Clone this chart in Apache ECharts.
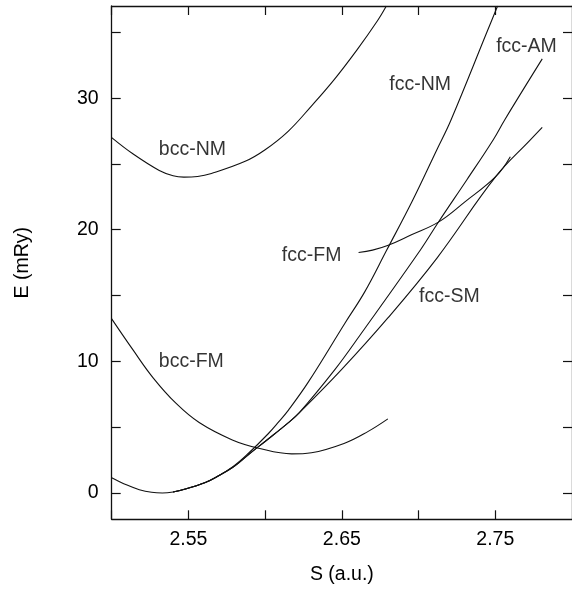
<!DOCTYPE html>
<html>
<head>
<meta charset="utf-8">
<script src="https://cdn.jsdelivr.net/npm/echarts@6/dist/echarts.min.js"></script>
<style>
  html, body { margin: 0; padding: 0; background: #fff; }
  #main { width: 572px; height: 590px; }
</style>
</head>
<body>
<div id="main"></div>
<script>
// Total energy E (mRy) versus Wigner–Seitz radius S (a.u.)

// bcc, non-magnetic
const bccNM_S = [2.500, 2.514, 2.531, 2.540, 2.547, 2.556, 2.565, 2.587, 2.600, 2.615, 2.630, 2.645, 2.660, 2.673, 2.679];
const bccNM_E = [27.0, 25.75, 24.5, 24.1, 24.0, 24.05, 24.28, 25.2, 26.08, 27.48, 29.38, 31.41, 33.69, 35.84, 37.0];

// bcc, ferromagnetic
const bccFM_S = [2.500, 2.514, 2.527, 2.542, 2.557, 2.5786, 2.5958, 2.6173, 2.6302, 2.6518, 2.6669, 2.680];
const bccFM_E = [13.23, 10.85, 8.75, 6.8, 5.35, 4.03, 3.40, 2.97, 3.06, 3.78, 4.66, 5.63];

// fcc, non-magnetic
const fccNM_S = [2.500, 2.510, 2.518, 2.526, 2.533, 2.540, 2.548, 2.561, 2.568, 2.579, 2.589, 2.602, 2.6088, 2.6152, 2.628, 2.652, 2.665, 2.679, 2.696, 2.712, 2.721, 2.7445, 2.7515];
const fccNM_E = [1.16, 0.6, 0.25, 0.05, 0.0, 0.08, 0.3, 0.8, 1.2, 2.0, 3.0, 4.5, 5.4, 6.3, 8.4, 12.9, 15.3, 18.4, 22.2, 26.1, 28.3, 35.0, 37.0];

// fcc, antiferromagnetic
const fccAM_S = [2.540, 2.548, 2.561, 2.568, 2.579, 2.589, 2.602, 2.6152, 2.622, 2.6453, 2.6625, 2.7013, 2.7132, 2.7315, 2.7487, 2.7562, 2.7806];
const fccAM_E = [0.08, 0.3, 0.8, 1.2, 1.95, 2.9, 4.1, 5.35, 6.06, 9.35, 12.1, 18.48, 20.63, 23.8, 26.84, 28.36, 32.98];

// fcc, spin spiral
const fccSM_S = [2.540, 2.548, 2.561, 2.568, 2.579, 2.589, 2.602, 2.6152, 2.622, 2.6496, 2.680, 2.712, 2.7504, 2.773, 2.7806];
const fccSM_E = [0.08, 0.3, 0.8, 1.2, 1.95, 2.9, 4.1, 5.35, 6.06, 9.35, 13.3, 17.85, 24.05, 26.84, 27.78];

// fcc, ferromagnetic
const fccFM_S = [2.6609, 2.670, 2.6798, 2.695, 2.7132, 2.730, 2.7504, 2.7598];
const fccFM_E = [18.27, 18.45, 18.8, 19.6, 20.6, 22.1, 24.05, 25.55];

// Axis ticks and labels
const xTicks = [2.50, 2.55, 2.60, 2.65, 2.70, 2.75];
const xTickLabels = [2.55, 2.65, 2.75];
const yTicks = [0, 5, 10, 15, 20, 25, 30, 35];
const yTickLabels = [0, 10, 20, 30];

// Curve names and where their captions sit (left edge, vertical centre)
const curveNames = ['bcc-NM', 'fcc-NM', 'fcc-AM', 'fcc-FM', 'bcc-FM', 'fcc-SM'];
const captionAt = [[2.5307, 26.08], [2.6809, 31.03], [2.7506, 33.95], [2.6109, 18.02], [2.5307, 9.98], [2.7003, 14.93]];

const FONT = "'Liberation Sans', Arial, Helvetica, sans-serif";
const INK = '#000000';

function pairs(xs, ys) { return xs.map((x, i) => [x, ys[i]]); }

function curve(name, xs, ys) {
  return {
    name: name,
    type: 'line',
    data: pairs(xs, ys),
    showSymbol: false,
    smooth: 0.4,
    clip: true,
    lineStyle: { color: '#111111', width: 1.1 },
    silent: true,
    animation: false
  };
}

const frameLine = { show: true, onZero: false, lineStyle: { color: '#111111', width: 1.3 } };
const tickStyle = { color: '#111111', width: 1.2 };

const chart = echarts.init(document.getElementById('main'), null, { renderer: 'canvas' });
chart.setOption({
  backgroundColor: '#ffffff',
  animation: false,
  textStyle: { fontFamily: FONT },
  grid: { left: 111.7, right: -4.1, top: 6, bottom: 70.7, containLabel: false },
  xAxis: [{
    type: 'value', position: 'bottom', min: 2.5, max: 2.8,
    name: 'S (a.u.)', nameLocation: 'middle', nameGap: 45,
    nameTextStyle: { fontSize: 19.5, color: INK, fontFamily: FONT },
    axisLine: frameLine,
    axisTick: { show: true, inside: true, length: 9, customValues: xTicks, lineStyle: tickStyle },
    axisLabel: { show: true, customValues: xTickLabels, margin: 10, fontSize: 19.5, color: INK, fontFamily: FONT,
                 formatter: v => v.toFixed(2) },
    splitLine: { show: false }
  }, {
    type: 'value', position: 'top', min: 2.5, max: 2.8,
    axisLine: frameLine,
    axisTick: { show: true, inside: true, length: 9, customValues: xTicks, lineStyle: tickStyle },
    axisLabel: { show: false },
    splitLine: { show: false }
  }],
  yAxis: [{
    type: 'value', position: 'left', min: -2, max: 37,
    name: 'E (mRy)', nameLocation: 'middle', nameGap: 79, nameRotate: 90,
    nameTextStyle: { fontSize: 19.5, color: INK, fontFamily: FONT },
    axisLine: frameLine,
    axisTick: { show: true, inside: true, length: 9, customValues: yTicks, lineStyle: tickStyle },
    axisLabel: { show: true, customValues: yTickLabels, margin: 13, fontSize: 19.5, color: INK, fontFamily: FONT },
    splitLine: { show: false }
  }, {
    type: 'value', position: 'right', min: -2, max: 37,
    axisLine: frameLine,
    axisTick: { show: true, inside: true, length: 9, customValues: yTicks, lineStyle: tickStyle },
    axisLabel: { show: false },
    splitLine: { show: false }
  }],
  series: [
    curve('bcc-NM', bccNM_S, bccNM_E),
    curve('bcc-FM', bccFM_S, bccFM_E),
    curve('fcc-NM', fccNM_S, fccNM_E),
    curve('fcc-AM', fccAM_S, fccAM_E),
    curve('fcc-SM', fccSM_S, fccSM_E),
    curve('fcc-FM', fccFM_S, fccFM_E),
    {
      name: 'captions',
      type: 'scatter',
      symbolSize: 0,
      silent: true,
      animation: false,
      data: curveNames.map((n, i) => [captionAt[i][0], captionAt[i][1], n]),
      label: {
        show: true, position: 'right', distance: 0,
        formatter: p => p.data[2],
        fontSize: 19.5, color: INK, fontFamily: FONT
      }
    }
  ]
});
</script>
</body>
</html>
